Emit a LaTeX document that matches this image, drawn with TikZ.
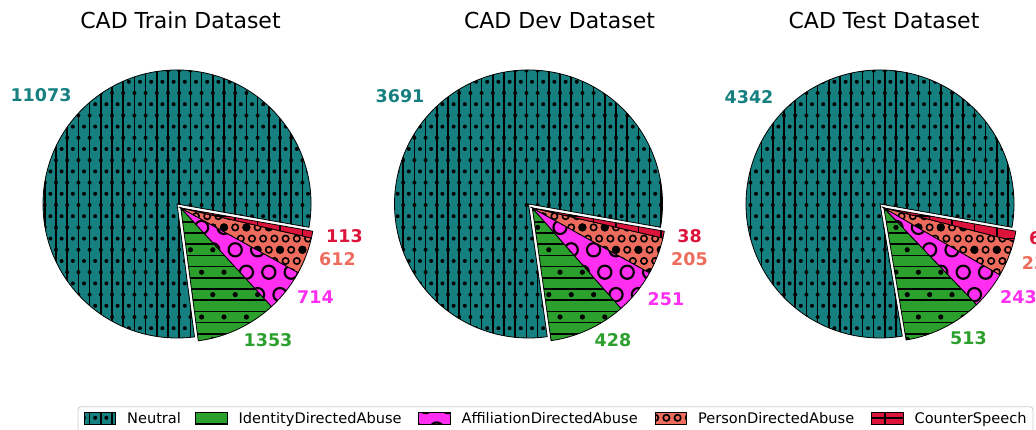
\documentclass[tikz,border=0pt]{standalone}
\usepackage{fontspec}
\setmainfont{DejaVu Sans}
\usetikzlibrary{positioning}

\definecolor{neutralc}{HTML}{168080}
\definecolor{identityc}{HTML}{2CA02C}
\definecolor{affilc}{HTML}{FF2EF0}
\definecolor{personc}{HTML}{EE6C5D}
\definecolor{counterc}{HTML}{DC143C}

\tikzset{
  slice/.style={draw=black, line width=0.8pt},
  hatchline/.style={draw=black, line width=1.6pt},
  numlabel/.style={font=\fontsize{17.5}{20}\selectfont\bfseries, inner sep=0pt},
  plottitle/.style={font=\fontsize{22}{26}\selectfont, inner sep=0pt, anchor=base},
  legframe/.style={draw=black!20, line width=0.8pt, rounded corners=3pt, fill=white},
  legpatch/.style={minimum width=31pt, minimum height=11.3pt, inner sep=0pt, anchor=south west},
  legtext/.style={font=\fontsize{14.6}{17}\selectfont, inner sep=0pt, text height=10.6pt, text depth=0pt},
}

\newcommand{\hs}{11.2}
\newcommand{\pr}{134}

% wedge outline
\newcommand{\slicepath}[3]{(#1) -- ++(#2:\pr) arc[start angle=#2, end angle=#3, radius=\pr] -- cycle}

% hatch pieces: region xmin xmax ymin ymax
\newcommand{\vlines}[6]{%
  \pgfmathtruncatemacro\ia{floor((#1)/(#5))-1}%
  \pgfmathtruncatemacro\ib{ceil((#2)/(#5))+1}%
  \foreach \i in {\ia,...,\ib}{\draw[hatchline] ({(\i+#6)*(#5)},#3) -- ({(\i+#6)*(#5)},#4);}}
\newcommand{\hlines}[6]{%
  \pgfmathtruncatemacro\ka{floor((#3)/(#5))-1}%
  \pgfmathtruncatemacro\kb{ceil((#4)/(#5))+1}%
  \foreach \k in {\ka,...,\kb}{\draw[hatchline] (#1,{(\k+#6)*(#5)}) -- (#2,{(\k+#6)*(#5)});}}
\newcommand{\stagger}[8]{%
  \pgfmathtruncatemacro\ia{floor((#1)/(#5))-1}%
  \pgfmathtruncatemacro\ib{ceil((#2)/(#5))+1}%
  \pgfmathtruncatemacro\ka{floor((#3)/(#5))-1}%
  \pgfmathtruncatemacro\kb{ceil((#4)/(#5))+1}%
  \foreach \k in {\ka,...,\kb}{%
    \foreach \i in {\ia,...,\ib}{%
      \path[#7] ({(\i+0.5*mod(\k+#6,2))*(#5)},{\k*(#5)}) circle (#8);}}}

\newcommand{\hatchneutral}[4]{%
  \vlines{#1}{#2}{#3}{#4}{\hs}{0}%
  \stagger{#1}{#2}{#3}{#4}{\hs}{0}{fill=black}{2.0}}
\newcommand{\hatchidentity}[4]{%
  \hlines{#1}{#2}{#3}{#4}{\hs}{0.5}%
  \stagger{#1}{#2}{#3}{#4}{2*\hs}{1}{fill=black}{2.6}}
\newcommand{\hatchaffil}[4]{%
  \stagger{#1}{#2}{#3}{#4}{2*\hs}{1}{draw=black, line width=2.1pt}{6.6}}
\newcommand{\hatchperson}[4]{%
  \stagger{#1}{#2}{#3}{#4}{\hs}{0}{draw=black, line width=1.6pt}{3.2}%
  \stagger{#1}{#2}{#3}{#4}{2*\hs}{1}{fill=black}{4.1}}
\newcommand{\hatchcounter}[4]{%
  \vlines{#1}{#2}{#3}{#4}{2*\hs}{0.5}%
  \hlines{#1}{#2}{#3}{#4}{2*\hs}{0.5}}

% one slice: centre, from, to, colour, hatch, region
\newcommand{\slice}[9]{%
  \begin{scope}
    \clip \slicepath{#1}{#2}{#3};
    \fill[#4] (#6,#8) rectangle (#7,#9);
    #5{#6}{#7}{#8}{#9}
  \end{scope}
  \draw[slice] \slicepath{#1}{#2}{#3};}

% name, centre x, centre y, five counts
\newcommand{\cadpie}[8]{%
  \pgfmathsetmacro\tot{#4+#5+#6+#7+#8}%
  \pgfmathsetmacro\angA{-10}%
  \pgfmathsetmacro\angB{\angA+360*((#4)/\tot)}%
  \pgfmathsetmacro\angC{\angB+360*((#5)/\tot)}%
  \pgfmathsetmacro\angD{\angC+360*((#6)/\tot)}%
  \pgfmathsetmacro\angE{\angD+360*((#7)/\tot)}%
  \pgfmathsetmacro\angF{350}%
  \pgfmathsetmacro\angM{(\angB+\angF)/2}%
  \coordinate (#1c) at (#2,#3);
  \coordinate (#1x) at ([shift={(\angM:5.5)}]#1c);
  \pgfmathsetmacro\xl{#2-140}\pgfmathsetmacro\xr{#2+145}%
  \pgfmathsetmacro\yb{#3-145}\pgfmathsetmacro\yt{#3+140}%
  \pgfmathsetmacro\xm{#2-5}\pgfmathsetmacro\ym{#3+30}%
  \slice{#1c}{\angA}{\angB}{neutralc}{\hatchneutral}{\xl}{\xr}{\yb}{\yt}
  \slice{#1x}{\angB}{\angC}{identityc}{\hatchidentity}{\xm}{\xr}{\yb}{\ym}
  \slice{#1x}{\angC}{\angD}{affilc}{\hatchaffil}{\xm}{\xr}{\yb}{\ym}
  \slice{#1x}{\angD}{\angE}{personc}{\hatchperson}{\xm}{\xr}{\yb}{\ym}
  \slice{#1x}{\angE}{\angF}{counterc}{\hatchcounter}{\xm}{\xr}{\yb}{\ym}
}

% legend entry: name, x, colour, hatch, text
\newcommand{\legentry}[5]{%
  \node[legpatch, fill=#3] (#1) at (#2,5) {};
  \begin{scope}
    \clip (#1.south west) rectangle (#1.north east);
    \pgfmathsetmacro\xr{#2+31}%
    #4{#2}{\xr}{5}{16.3}
  \end{scope}
  \draw[slice] (#1.south west) rectangle (#1.north east);
  \node[legtext, right=11.5pt of #1] (#1Text) {#5};}

\begin{document}
\begin{tikzpicture}[x=1pt, y=1pt]
  \useasboundingbox (0,0) rectangle (1036,429);

  % pies
  \cadpie{train}{177}{225}{11073}{1353}{714}{612}{113}
  \cadpie{dev}{528.5}{225}{3691}{428}{251}{205}{38}
  \cadpie{test}{880}{225}{4342}{513}{243}{236}{64}

  % titles
  \node[plottitle] (trainTitle) at (180.5,400) {CAD Train Dataset};
  \node[plottitle] (devTitle) at (559.5,400) {CAD Dev Dataset};
  \node[plottitle] (testTitle) at (884,400) {CAD Test Dataset};

  % counts
  \node[numlabel, text=neutralc] (trainNeutral) at (41,334) {11073};
  \node[numlabel, text=identityc] (trainIdentity) at (268,89) {1353};
  \node[numlabel, text=affilc] (trainAffil) at (315.5,131.5) {714};
  \node[numlabel, text=personc] (trainPerson) at (337.5,170) {612};
  \node[numlabel, text=counterc] (trainCounter) at (344.5,192.5) {113};

  \node[numlabel, text=neutralc] (devNeutral) at (400,333) {3691};
  \node[numlabel, text=identityc] (devIdentity) at (613,89) {428};
  \node[numlabel, text=affilc] (devAffil) at (666,129.5) {251};
  \node[numlabel, text=personc] (devPerson) at (689.5,169.5) {205};
  \node[numlabel, text=counterc] (devCounter) at (689.5,192.5) {38};

  \node[numlabel, text=neutralc] (testNeutral) at (749,331.5) {4342};
  \node[numlabel, text=identityc] (testIdentity) at (968.5,90.5) {513};
  \node[numlabel, text=affilc, anchor=west] (testAffil) at (1000,132) {243};
  \node[numlabel, text=personc, anchor=west] (testPerson) at (1021.7,166) {236};
  \node[numlabel, text=counterc, anchor=west] (testCounter) at (1029,190.5) {64};

  % legend
  \draw[legframe] (78,22.3) rectangle (1033,-10);
  \legentry{legNeutral}{84}{neutralc}{\hatchneutral}{Neutral}
  \legentry{legIdentity}{195.5}{identityc}{\hatchidentity}{IdentityDirectedAbuse}
  \legentry{legAffil}{418.5}{affilc}{\hatchaffil}{AffiliationDirectedAbuse}
  \legentry{legPerson}{655}{personc}{\hatchperson}{PersonDirectedAbuse}
  \legentry{legCounter}{871.5}{counterc}{\hatchcounter}{CounterSpeech}
\end{tikzpicture}
\end{document}
